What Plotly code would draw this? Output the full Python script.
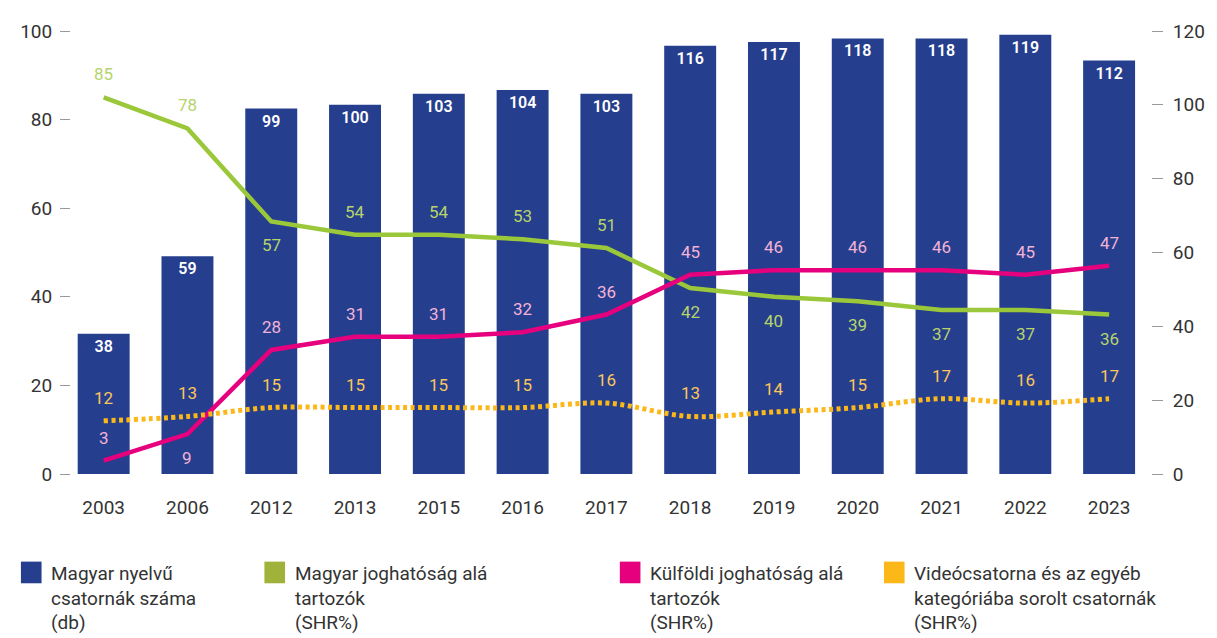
import plotly.graph_objects as go

# chart data
years = ["2003", "2006", "2012", "2013", "2015", "2016", "2017",
         "2018", "2019", "2020", "2021", "2022", "2023"]
channels = [38, 59, 99, 100, 103, 104, 103, 116, 117, 118, 118, 119, 112]
hu_shr = [85, 78, 57, 54, 54, 53, 51, 42, 40, 39, 37, 37, 36]
foreign_shr = [3, 9, 28, 31, 31, 32, 36, 45, 46, 46, 46, 45, 47]
video_shr = [12, 13, 15, 15, 15, 15, 16, 13, 14, 15, 17, 16, 17]

legend_names = ["Magyar nyelvű<br>csatornák száma<br>(db)",
                "Magyar joghatóság alá<br>tartozók<br>(SHR%)",
                "Külföldi joghatóság alá<br>tartozók<br>(SHR%)",
                "Videócsatorna és az egyéb<br>kategóriába sorolt csatornák<br>(SHR%)"]

# label side for each point (style only)
hu_side = ["up"] * 2 + ["down"] + ["up"] * 4 + ["down"] * 6
foreign_side = ["up", "down"] + ["up"] * 11
video_side = ["up"] * 13

colors = {'bar': '#263e8e', 'green': '#9bc83a', 'pink': '#e6007e', 'orange': '#fbb818',
          'green_txt': '#b6d46c', 'pink_txt': '#f2b3d6', 'orange_txt': '#fbc65c',
          'green_leg': '#a0b23a', 'text': '#333333', 'tick': '#999999'}
FONT = "Roboto"

# the page body adds an 8px offset, so work in figure pixels
FW, FH = 1209, 630
L, R, T, B = 55, 1155, 16, 466
W, H = R - L, B - T

fig = go.Figure()
fig.add_trace(go.Bar(x=years, y=channels, marker=dict(color=colors['bar'], line=dict(width=0)),
                     text=channels, textposition='inside', insidetextanchor='end', textangle=0,
                     insidetextfont=dict(color='white', size=16, family=FONT, weight=600),
                     cliponaxis=False, yaxis='y'))
fig.add_trace(go.Scatter(x=years, y=hu_shr, mode='lines', line=dict(color=colors['green'], width=4.5),
                         yaxis='y2'))
fig.add_trace(go.Scatter(x=years, y=foreign_shr, mode='lines', line=dict(color=colors['pink'], width=4.5),
                         yaxis='y2'))
fig.add_trace(go.Scatter(x=years, y=video_shr, mode='lines',
                         line=dict(color=colors['orange'], width=5, dash='4px,3.5px', shape='spline'),
                         yaxis='y2'))

annotations = []
for vals, sides, col in [(hu_shr, hu_side, colors['green_txt']),
                         (foreign_shr, foreign_side, colors['pink_txt']),
                         (video_shr, video_side, colors['orange_txt'])]:
    for i, (v, s) in enumerate(zip(vals, sides)):
        annotations.append(dict(x=i, y=v, xref='x', yref='y2', text=str(v), showarrow=False,
                                yshift=23 if s == "up" else -24,
                                font=dict(color=col, size=17, family=FONT)))

# legend drawn by hand under the chart
legend_x = [4, 252, 614, 883]
legend_cols = [colors['bar'], colors['green_leg'], colors['pink'], colors['orange']]
shapes = []
for lx, name, col in zip(legend_x, legend_names, legend_cols):
    shapes.append(dict(type='rect', xref='paper', yref='paper',
                       x0=(lx - L) / W, x1=(lx + 21 - L) / W,
                       y0=(B - 555) / H, y1=(B - 577) / H,
                       fillcolor=col, line=dict(width=0)))
    annotations.append(dict(x=(lx + 29 - L) / W, y=(B - 553) / H, xref='paper', yref='paper',
                            xanchor='left', yanchor='top', align='left', text=name, showarrow=False,
                            font=dict(color=colors['text'], size=19, family=FONT)))

fig.update_layout(
    width=FW, height=FH, showlegend=False, bargap=0.38,
    margin=dict(l=L, r=FW - R, t=T, b=FH - B),
    plot_bgcolor='white', paper_bgcolor='white',
    font=dict(family=FONT, color=colors['text'], size=19),
    xaxis=dict(type='category', range=[-0.39, 12.5], showgrid=False, showline=False,
               ticks='', ticklabelstandoff=20, tickfont=dict(size=19)),
    yaxis=dict(side='right', range=[0, 120], tickvals=list(range(0, 121, 20)), showgrid=False,
               zeroline=False, ticks='outside', ticklen=11, tickcolor=colors['tick'],
               ticklabelstandoff=6, tickfont=dict(size=19)),
    yaxis2=dict(side='left', overlaying='y', range=[0, 100], tickvals=list(range(0, 101, 20)),
                showgrid=False, zeroline=False, ticks='outside', ticklen=10, tickcolor=colors['tick'],
                ticklabelstandoff=4, tickfont=dict(size=19)),
    annotations=annotations, shapes=shapes,
)

fig.write_html("out.html")
